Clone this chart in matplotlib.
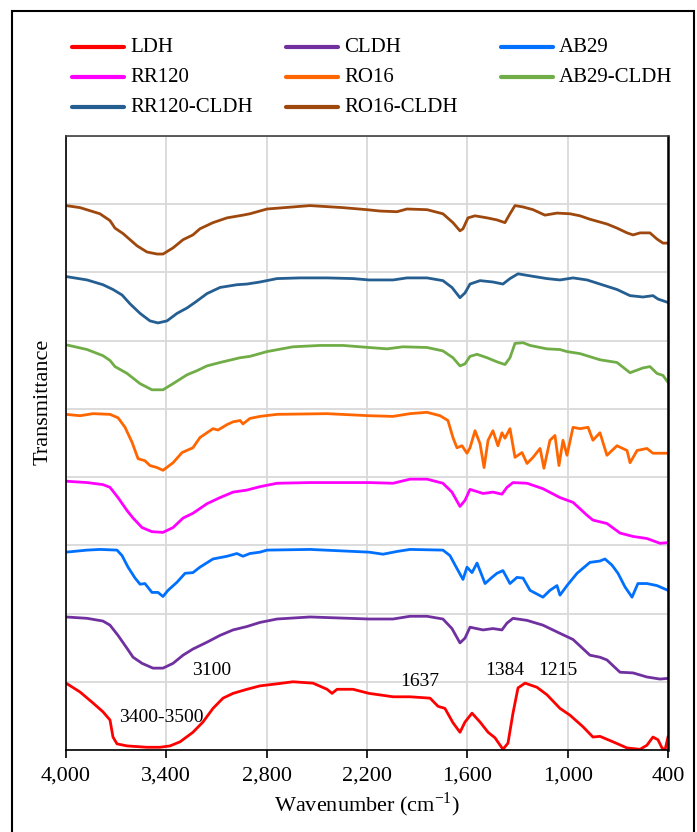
import matplotlib
matplotlib.use("Agg")
import matplotlib.pyplot as plt
from matplotlib.lines import Line2D
from matplotlib.patches import Rectangle
from matplotlib.ticker import FuncFormatter

plt.rcParams["font.family"] = ["Liberation Serif", "DejaVu Serif"]
plt.rcParams["mathtext.fontset"] = "custom"
plt.rcParams["mathtext.rm"] = "Liberation Serif"

# --- spectra (wavenumber, transmittance relative to each curve's baseline) ---
ldh_wn = [4000, 3916, 3839, 3779, 3737, 3719, 3695, 3635, 3516, 3438, 3378, 3318, 3241, 3181, 3121,
          3061, 3001, 2918, 2840, 2738, 2643, 2523, 2439, 2409, 2379, 2284, 2188, 2044, 1943, 1823,
          1775, 1734, 1686, 1644, 1614, 1572, 1524, 1476, 1435, 1387, 1357, 1327, 1297, 1255, 1184,
          1124, 1046, 986, 908, 849, 807, 729, 645, 567, 526, 490, 460, 436, 418, 400]
ldh_t = [-0.02, -0.15, -0.31, -0.44, -0.56, -0.81, -0.91, -0.94, -0.96, -0.96, -0.94, -0.88, -0.74, -0.59, -0.39,
         -0.24, -0.17, -0.11, -0.06, -0.03, 0.00, -0.02, -0.11, -0.17, -0.11, -0.11, -0.17, -0.22, -0.22, -0.24,
         -0.36, -0.39, -0.60, -0.74, -0.59, -0.46, -0.59, -0.74, -0.82, -0.99, -0.90, -0.46, -0.09, -0.02, -0.08,
         -0.19, -0.39, -0.49, -0.66, -0.81, -0.80, -0.88, -0.97, -0.99, -0.93, -0.81, -0.85, -0.97, -1.00, -0.81]

cldh_wn = [4000, 3874, 3779, 3737, 3689, 3635, 3599, 3545, 3480, 3420, 3360, 3300, 3241, 3157, 3079,
           3001, 2918, 2840, 2738, 2541, 2188, 2044, 1943, 1841, 1746, 1692, 1644, 1614, 1584, 1506,
           1447, 1393, 1363, 1327, 1243, 1148, 1046, 968, 867, 807, 765, 687, 609, 526, 448, 400]
cldh_t = [-0.05, -0.07, -0.11, -0.17, -0.32, -0.51, -0.64, -0.73, -0.80, -0.80, -0.73, -0.61, -0.52, -0.42, -0.32,
          -0.24, -0.19, -0.13, -0.08, -0.05, -0.08, -0.08, -0.04, -0.04, -0.08, -0.22, -0.43, -0.36, -0.20, -0.24,
          -0.22, -0.24, -0.14, -0.07, -0.10, -0.17, -0.29, -0.38, -0.61, -0.64, -0.68, -0.86, -0.87, -0.93, -0.96, -0.95]

ab29_wn = [4000, 3874, 3797, 3695, 3665, 3629, 3587, 3557, 3528, 3486, 3450, 3420, 3390, 3336, 3288,
           3241, 3199, 3121, 3037, 2978, 2942, 2900, 2840, 2798, 2541, 2188, 2104, 2021, 1943, 1746,
           1704, 1662, 1626, 1602, 1572, 1542, 1518, 1494, 1453, 1423, 1387, 1345, 1303, 1267, 1225,
           1148, 1106, 1064, 1046, 1004, 944, 867, 807, 777, 735, 699, 657, 615, 580, 526, 466, 400]
ab29_t = [-0.10, -0.07, -0.06, -0.07, -0.15, -0.32, -0.48, -0.57, -0.56, -0.69, -0.69, -0.75, -0.66, -0.54, -0.41,
          -0.40, -0.32, -0.20, -0.16, -0.12, -0.16, -0.12, -0.10, -0.07, -0.06, -0.10, -0.13, -0.09, -0.06, -0.07,
          -0.15, -0.34, -0.50, -0.32, -0.40, -0.26, -0.41, -0.56, -0.47, -0.41, -0.37, -0.56, -0.47, -0.48, -0.66,
          -0.76, -0.66, -0.59, -0.73, -0.59, -0.41, -0.25, -0.23, -0.20, -0.29, -0.41, -0.61, -0.76, -0.56, -0.56,
          -0.59, -0.66]

rr120_wn = [4000, 3874, 3779, 3737, 3689, 3635, 3599, 3545, 3486, 3420, 3360, 3300, 3241, 3157, 3079,
            3001, 2918, 2840, 2738, 2541, 2188, 2044, 1943, 1841, 1746, 1692, 1644, 1614, 1584, 1506,
            1447, 1393, 1363, 1327, 1243, 1148, 1046, 968, 884, 849, 765, 687, 609, 526, 448, 400]
rr120_t = [-0.06, -0.08, -0.11, -0.15, -0.30, -0.49, -0.60, -0.74, -0.80, -0.81, -0.74, -0.60, -0.53, -0.39, -0.30,
           -0.22, -0.19, -0.14, -0.09, -0.08, -0.08, -0.09, -0.03, -0.03, -0.09, -0.22, -0.43, -0.34, -0.18, -0.24,
           -0.22, -0.25, -0.15, -0.08, -0.09, -0.17, -0.30, -0.37, -0.56, -0.63, -0.68, -0.82, -0.87, -0.90, -0.97, -0.96]

ro16_wn = [4000, 3916, 3839, 3737, 3689, 3647, 3605, 3569, 3528, 3498, 3456, 3420, 3360, 3306, 3241,
           3199, 3157, 3121, 3091, 3037, 3001, 2959, 2942, 2900, 2840, 2738, 2439, 2188, 2044, 1943,
           1841, 1763, 1716, 1686, 1662, 1632, 1602, 1584, 1554, 1524, 1500, 1476, 1447, 1417, 1393,
           1375, 1345, 1315, 1273, 1243, 1207, 1165, 1142, 1106, 1076, 1052, 1028, 1004, 968, 926,
           878, 849, 807, 765, 705, 645, 627, 585, 526, 490, 430, 400]
ro16_t = [-0.08, -0.10, -0.07, -0.08, -0.13, -0.27, -0.49, -0.73, -0.76, -0.83, -0.86, -0.90, -0.79, -0.64, -0.57,
          -0.42, -0.35, -0.29, -0.31, -0.23, -0.19, -0.17, -0.22, -0.14, -0.11, -0.08, -0.07, -0.10, -0.11, -0.07,
          -0.05, -0.10, -0.17, -0.42, -0.57, -0.54, -0.65, -0.57, -0.32, -0.51, -0.86, -0.46, -0.32, -0.54, -0.35,
          -0.43, -0.29, -0.71, -0.64, -0.80, -0.71, -0.58, -0.87, -0.46, -0.39, -0.83, -0.46, -0.68, -0.27, -0.29,
          -0.27, -0.46, -0.35, -0.68, -0.54, -0.61, -0.79, -0.61, -0.58, -0.65, -0.65, -0.65]

ab29c_wn = [4000, 3874, 3779, 3737, 3707, 3635, 3557, 3486, 3420, 3360, 3276, 3217, 3157, 3079, 2959,
            2900, 2798, 2643, 2481, 2344, 2188, 2080, 1985, 1841, 1746, 1686, 1644, 1614, 1584, 1542,
            1482, 1423, 1375, 1345, 1315, 1267, 1225, 1124, 1046, 1004, 926, 807, 705, 627, 550,
            508, 466, 430, 400]
ab29c_t = [-0.06, -0.13, -0.22, -0.29, -0.38, -0.48, -0.63, -0.72, -0.72, -0.63, -0.50, -0.44, -0.37, -0.32, -0.25,
           -0.23, -0.16, -0.09, -0.07, -0.07, -0.10, -0.12, -0.09, -0.10, -0.15, -0.25, -0.37, -0.34, -0.23, -0.20,
           -0.25, -0.31, -0.35, -0.25, -0.04, -0.03, -0.07, -0.12, -0.13, -0.16, -0.19, -0.28, -0.32, -0.47, -0.40,
           -0.38, -0.48, -0.51, -0.61]

rr120c_wn = [4000, 3874, 3779, 3719, 3665, 3617, 3557, 3498, 3450, 3396, 3336, 3276, 3229, 3157, 3079,
             2978, 2918, 2840, 2738, 2601, 2439, 2284, 2188, 2044, 1961, 1841, 1746, 1692, 1644, 1614,
             1584, 1524, 1447, 1387, 1345, 1297, 1225, 1124, 1046, 968, 884, 807, 705, 627, 550,
             490, 460, 400]
rr120c_t = [-0.06, -0.11, -0.18, -0.25, -0.33, -0.46, -0.60, -0.71, -0.74, -0.71, -0.60, -0.52, -0.44, -0.31, -0.22,
            -0.18, -0.17, -0.14, -0.09, -0.08, -0.08, -0.09, -0.11, -0.11, -0.08, -0.08, -0.12, -0.22, -0.37, -0.30,
            -0.17, -0.12, -0.14, -0.17, -0.09, -0.02, -0.05, -0.09, -0.11, -0.08, -0.11, -0.17, -0.25, -0.34, -0.36,
            -0.34, -0.39, -0.44]

ro16c_wn = [4000, 3916, 3797, 3737, 3707, 3659, 3575, 3516, 3456, 3420, 3360, 3300, 3241, 3199, 3121,
            3037, 2942, 2900, 2798, 2643, 2541, 2344, 2200, 2122, 2021, 1961, 1841, 1746, 1686, 1644,
            1626, 1596, 1554, 1482, 1423, 1375, 1345, 1315, 1267, 1207, 1136, 1064, 986, 926, 867,
            765, 705, 645, 609, 567, 508, 466, 430, 400]
ro16c_t = [-0.02, -0.05, -0.14, -0.24, -0.35, -0.43, -0.61, -0.70, -0.73, -0.73, -0.64, -0.52, -0.45, -0.36, -0.27,
           -0.20, -0.16, -0.14, -0.07, -0.04, -0.02, -0.05, -0.08, -0.10, -0.11, -0.07, -0.08, -0.14, -0.27, -0.39,
           -0.36, -0.20, -0.17, -0.20, -0.23, -0.27, -0.14, -0.02, -0.04, -0.08, -0.16, -0.13, -0.14, -0.17, -0.22,
           -0.29, -0.35, -0.42, -0.45, -0.42, -0.42, -0.51, -0.57, -0.57]

labels = ["LDH", "CLDH", "AB29", "RR120", "RO16", "AB29-CLDH", "RR120-CLDH", "RO16-CLDH"]
offsets = [1, 2, 3, 4, 5, 6, 7, 8]
colors = ["#ff0000", "#7030a0", "#0070ff", "#ff00ff", "#ff6600", "#70ad47", "#255e91", "#9e480e"]
series = [(ldh_wn, ldh_t), (cldh_wn, cldh_t), (ab29_wn, ab29_t), (rr120_wn, rr120_t),
          (ro16_wn, ro16_t), (ab29c_wn, ab29c_t), (rr120c_wn, rr120c_t), (ro16c_wn, ro16c_t)]

peak_labels = ["3400-3500", "3100", "1637", "1384", "1215"]
peak_x = [3430, 3127, 1883, 1375, 1058]
peak_y = [0.47, 1.17, 1.01, 1.17, 1.17]

W, H = 697, 832
fig = plt.figure(figsize=(W / 100, H / 100), dpi=100)
ax = fig.add_axes([66 / W, 1 - 750 / H, 602 / W, 614 / H])

for (wn, t), off, c in zip(series, offsets, colors):
    ax.plot(wn, [v + off for v in t], color=c, lw=2.0, solid_joinstyle="round")

for s, x, y in zip(peak_labels, peak_x, peak_y):
    ax.text(x, y, s, ha="center", va="center", fontsize=14)

ax.set_xlim(4000, 400)
ax.set_ylim(0, 9)
ax.set_xticks(range(4000, 399, -600))
ax.xaxis.set_major_formatter(FuncFormatter(lambda v, p: f"{v:,.0f}"))
ax.set_yticks(range(0, 10))
ax.set_yticklabels([])
ax.tick_params(axis="y", length=0)
ax.tick_params(axis="x", direction="out", length=6, width=1.2, labelsize=16, pad=6)
ax.grid(True, color="#d9d9d9", lw=1.3)
ax.set_axisbelow(True)
for sp in ax.spines.values():
    sp.set_color("black")
    sp.set_linewidth(1.2)
ax.spines["top"].set_color("#404040")
ax.spines["right"].set_linewidth(1.8)

fig.text(367 / W, 1 - 805 / H, r"Wavenumber (cm$^{-1}$)", ha="center", va="center", fontsize=16)
fig.text(43 / W, 1 - 402 / H, "Transmittance", rotation=90, ha="center", va="center", fontsize=16)

# legend laid out row by row, like the original
col_x = [72, 286, 501]
row_y = [47, 77, 107]
for i, (lab, c) in enumerate(zip(labels, colors)):
    cx = col_x[i % 3]
    cy = row_y[i // 3]
    fig.add_artist(Line2D([cx / W, (cx + 52) / W], [1 - cy / H, 1 - cy / H],
                          transform=fig.transFigure, color=c, lw=3.0, solid_capstyle="round"))
    fig.text((cx + 58) / W, 1 - cy / H, lab, ha="left", va="center", fontsize=15)

fig.add_artist(Rectangle((12 / W, -0.05), (694 - 12) / W, 1.05 - 11 / H, transform=fig.transFigure,
                         fill=False, edgecolor="black", lw=1.5))

fig.savefig("out.png", dpi=100, facecolor="white")
